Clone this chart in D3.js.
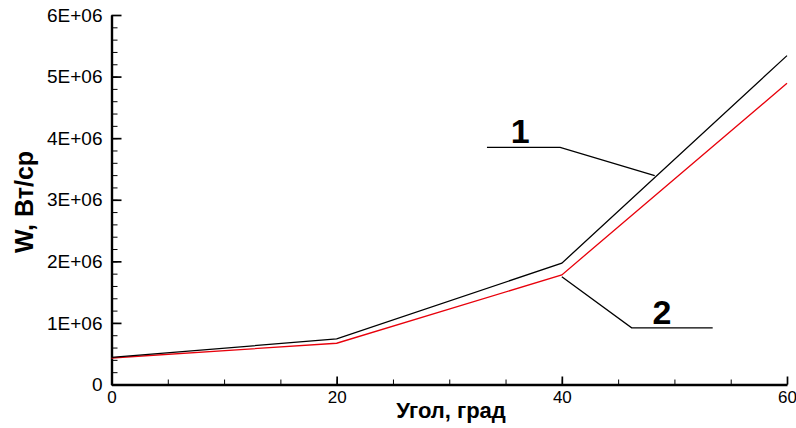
<!DOCTYPE html>
<html>
<head>
<meta charset="utf-8">
<script src="https://cdn.jsdelivr.net/npm/d3@7/dist/d3.min.js"></script>
<style>
  html, body { margin: 0; padding: 0; background: #fff; }
  svg { display: block; font-family: "Liberation Sans", Arial, sans-serif; }
</style>
</head>
<body>
<svg id="chart" width="796" height="428"></svg>
<script>
// Angle values (degrees)
const angles = [0, 20, 40, 60];
// Series 1 (black) and series 2 (red), W in Вт/ср
const series1 = [0.44e6, 0.74e6, 1.97e6, 5.34e6];
const series2 = [0.43e6, 0.67e6, 1.78e6, 4.89e6];
const xTicks = [0, 20, 40, 60];
const yTicks = [0, 1e6, 2e6, 3e6, 4e6, 5e6, 6e6];
const yTickLabels = ["0", "1E+06", "2E+06", "3E+06", "4E+06", "5E+06", "6E+06"];
// Callout leaders in data units: [angle, W]
const callout1 = [[33.35, 3.85e6], [39.85, 3.85e6], [48.25, 3.39e6]];
const callout2 = [[40.0, 1.75e6], [46.2, 0.92e6], [53.4, 0.92e6]];
const labels = [{ text: "1", x: 36.3, y: 3.85e6 }, { text: "2", x: 48.9, y: 0.92e6 }];

const svg = d3.select("#chart");
const x = d3.scaleLinear().domain([0, 60]).range([111.5, 787]);
const y = d3.scaleLinear().domain([0, 6e6]).range([384.5, 15]);

// minor ticks
svg.append("g")
  .attr("transform", `translate(0,${y(0)})`)
  .call(d3.axisBottom(x).tickValues(d3.range(0, 61, 5)).tickSize(-5).tickFormat(""))
  .call(g => g.select(".domain").remove());
svg.append("g")
  .attr("transform", `translate(${x(0)},0)`)
  .call(d3.axisLeft(y).tickValues(d3.range(0, 6e6 + 1, 2e5)).tickSize(-6).tickFormat(""))
  .call(g => g.select(".domain").remove());

// major axes
const xAxis = svg.append("g")
  .attr("transform", `translate(0,${y(0)})`)
  .call(d3.axisBottom(x).tickValues(xTicks).tickSize(-8).tickSizeOuter(0).tickPadding(6).tickFormat(d3.format("d")));
const yAxis = svg.append("g")
  .attr("transform", `translate(${x(0)},0)`)
  .call(d3.axisLeft(y).tickValues(yTicks).tickSize(-10).tickSizeOuter(0).tickPadding(9)
    .tickFormat((d, i) => yTickLabels[i]));

xAxis.selectAll("text").attr("font-size", 17);
yAxis.selectAll("text").attr("font-size", 19);
[xAxis, yAxis].forEach(g => {
  g.selectAll("text").attr("fill", "#000").attr("font-family", "Liberation Sans, Arial, sans-serif");
  g.select(".domain").attr("stroke-width", 2.4);
  g.selectAll(".tick line").attr("stroke-width", 1.7);
});
svg.selectAll(".tick line").attr("stroke", "#000");

// data lines
const line = d3.line().x((d, i) => x(angles[i])).y(d => y(d));
svg.append("path").datum(series2)
  .attr("d", line).attr("fill", "none").attr("stroke", "#e8000b").attr("stroke-width", 1.3);
svg.append("path").datum(series1)
  .attr("d", line).attr("fill", "none").attr("stroke", "#000").attr("stroke-width", 1.3);

// callouts
const leader = d3.line().x(d => x(d[0])).y(d => y(d[1]));
[callout1, callout2].forEach(c => {
  svg.append("path").attr("d", leader(c)).attr("fill", "none").attr("stroke", "#000").attr("stroke-width", 1.3);
});
svg.selectAll(".callout-label").data(labels).join("text")
  .attr("class", "callout-label")
  .attr("x", d => x(d.x)).attr("y", d => y(d.y) - 4)
  .attr("text-anchor", "middle")
  .attr("font-size", 34).attr("font-weight", "bold")
  .text(d => d.text);

// axis titles
svg.append("text")
  .attr("x", 451).attr("y", 418)
  .attr("text-anchor", "middle").attr("font-size", 22).attr("font-weight", "bold")
  .text("Угол, град");
svg.append("text")
  .attr("transform", "translate(33,202) rotate(-90)")
  .attr("text-anchor", "middle").attr("font-size", 25).attr("font-weight", "bold")
  .text("W, Вт/ср");
</script>
</body>
</html>
